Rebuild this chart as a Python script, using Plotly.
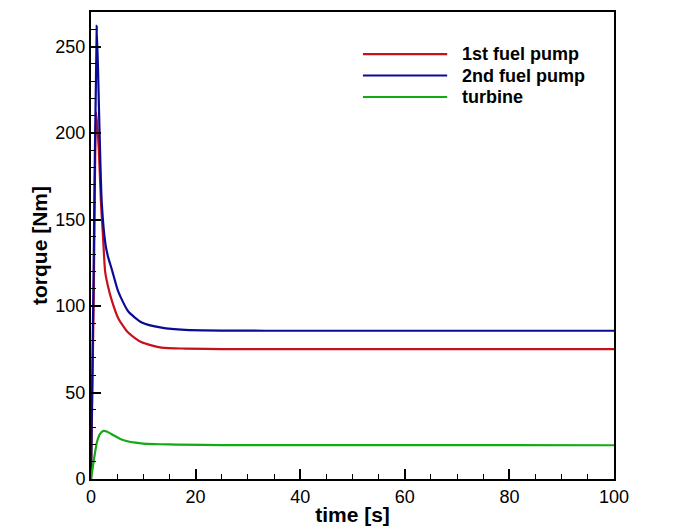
import plotly.graph_objects as go

# series data
series_names = ["1st fuel pump", "2nd fuel pump", "turbine"]
series_colors = ["#c8101a", "#0a0a96", "#14aa14"]

t_pump1 = [0, 0.5, 1.0, 1.5, 1.9, 2.3, 2.7, 3.2, 4.0, 5.2, 7.1, 9.7, 13.5, 18, 25, 100]
torque_pump1 = [0, 100, 212, 190, 160, 140, 120, 112, 103, 93, 84.7, 79, 76, 75.4, 75.1, 75.1]

t_pump2 = [0, 0.5, 1.1, 1.6, 2.05, 2.8, 3.3, 4.0, 5.2, 7.1, 9.7, 13.5, 18, 25, 40, 100]
torque_pump2 = [0, 120, 262, 205, 160, 135, 128, 121, 108.5, 97, 90.5, 87.5, 86.2, 85.8, 85.7, 85.7]

t_turbine = [0, 0.6, 1.15, 1.7, 2.4, 3.0, 4.3, 5.5, 6.8, 8.5, 10, 13, 16.4, 25, 100]
torque_turbine = [0, 12, 21.5, 26, 27.8, 27.5, 25.3, 23.3, 22, 21, 20.5, 20.1, 19.9, 19.6, 19.5]

FONT = "Arial, Liberation Sans, sans-serif"

fig = go.Figure()

for name, color, t, v in zip(
    series_names,
    series_colors,
    [t_pump1, t_pump2, t_turbine],
    [torque_pump1, torque_pump2, torque_turbine],
):
    fig.add_trace(go.Scatter(
        x=t,
        y=v,
        mode="lines",
        name=name,
        line=dict(color=color, width=2.2, shape="spline", smoothing=0.6),
        showlegend=False,
    ))

# hand-drawn legend (long sample lines like the reference)
legend_top = 0.910
legend_step = 0.046
for i, (name, color) in enumerate(zip(series_names, series_colors)):
    yy = legend_top - i * legend_step
    fig.add_shape(
        type="line", xref="paper", yref="paper",
        x0=0.520, x1=0.681, y0=yy, y1=yy,
        line=dict(color=color, width=2.2),
    )
    fig.add_annotation(
        xref="paper", yref="paper", x=0.705, y=yy,
        text=f"<b>{name}</b>", showarrow=False,
        xanchor="left", yanchor="middle",
        font=dict(family=FONT, size=18, color="black"),
    )

axis_common = dict(
    showgrid=False,
    zeroline=False,
    showline=True,
    linecolor="black",
    linewidth=2,
    mirror=True,
    ticks="inside",
    ticklen=10,
    tickwidth=2,
    tickcolor="black",
    tickfont=dict(family=FONT, size=18, color="black"),
)

fig.update_xaxes(
    range=[0, 100],
    dtick=20,
    minor=dict(dtick=5, ticks="inside", ticklen=5, tickwidth=1, tickcolor="black"),
    title=dict(text="<b>time [s]</b>", font=dict(family=FONT, size=21, color="black"), standoff=2),
    **axis_common,
)
fig.update_yaxes(
    range=[0, 270],
    dtick=50,
    minor=dict(dtick=10, ticks="inside", ticklen=5, tickwidth=1, tickcolor="black"),
    title=dict(text="<b>torque [Nm]</b>", font=dict(family=FONT, size=21, color="black"), standoff=2),
    **axis_common,
)

# the page body adds an 8px margin, so the figure is a bit smaller than the window
fig.update_layout(
    width=691,
    height=521,
    plot_bgcolor="white",
    paper_bgcolor="white",
    margin=dict(l=83, r=85, t=2, b=50),
)

fig.write_html("out.html")
